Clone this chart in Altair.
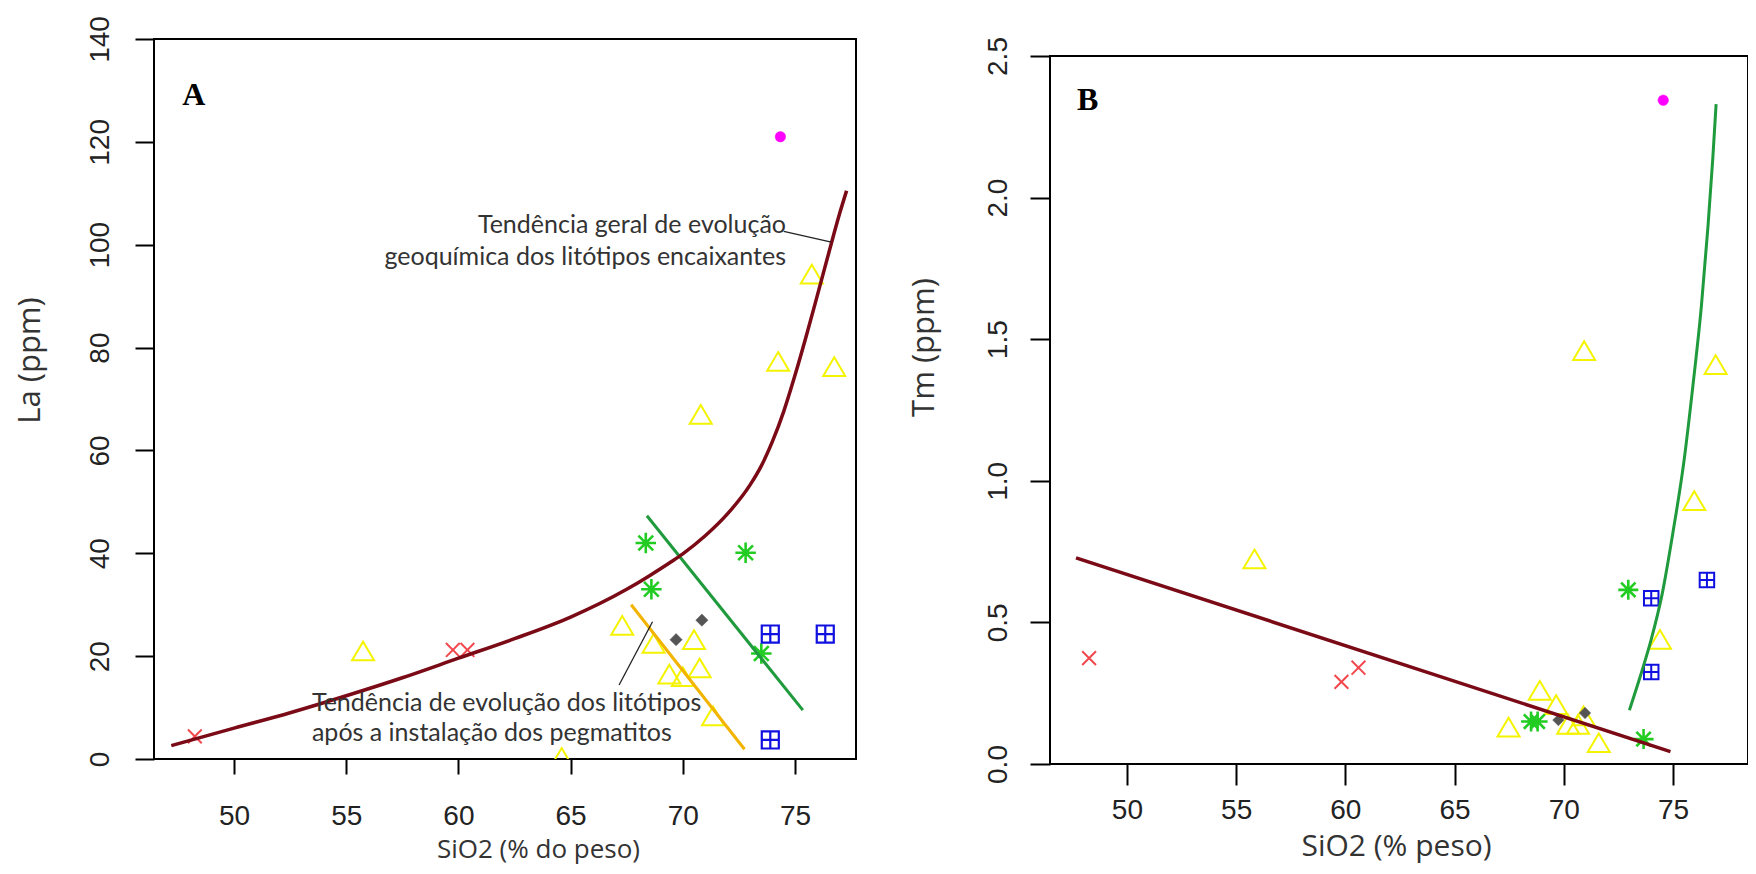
import altair as alt
import pandas as pd

# ---------------- Panel A : SiO2 (% do peso) x La (ppm) ----------------
A_red_x = [48.25, 59.75, 60.4]
A_red_y = [4.4, 21.2, 21.2]
A_tri_x = [55.75, 64.6, 67.3, 68.7, 69.4, 70.0, 70.5, 70.75, 71.35, 70.8, 74.25, 75.75, 76.75]
A_tri_y = [21.0, 0.3, 26.0, 22.5, 16.5, 16.0, 23.2, 17.7, 8.4, 67.0, 77.3, 94.3, 76.3]
A_ast_x = [68.35, 68.6, 72.8, 73.5]
A_ast_y = [42.0, 33.0, 40.1, 20.5]
A_dia_x = [69.7, 70.85]
A_dia_y = [23.2, 27.0]
A_sq_x = [73.9, 76.35, 73.9]
A_sq_y = [24.3, 24.3, 3.7]
A_mag_x = [74.35]
A_mag_y = [121.0]
A_trend_x = [47.2, 50, 52.5, 55, 57.5, 60, 62.5, 65, 67.5, 68.5, 69.5, 70, 71, 72, 73,
             73.5, 74, 74.5, 75, 75.5, 76, 76.5, 77.0, 77.3]
A_trend_y = [2.6, 6.0, 9.0, 12.3, 15.8, 19.6, 23.4, 27.6, 33.0, 35.6, 38.4, 39.9, 43.4, 47.7,
             53.3, 57.0, 61.8, 67.6, 74.6, 82.2, 90.2, 98.3, 106.2, 110.5]
A_green_x = [68.4, 75.35]
A_green_y = [47.3, 9.5]
A_orange_x = [67.7, 72.75]
A_orange_y = [30.0, 1.9]
A_note1 = ["Tendência geral de evolução", "geoquímica dos litótipos encaixantes"]
A_note1_x = [74.6, 74.6]
A_note1_y = [103.8, 97.6]
A_note2 = ["Tendência de evolução dos litótipos", "após a instalação dos pegmatitos"]
A_note2_x = [53.47, 53.47]
A_note2_y = [10.9, 5.0]
A_lead_seg = ["s1", "s1", "s2", "s2"]
A_lead_x = [74.5, 76.62, 67.16, 68.65]
A_lead_y = [102.6, 100.5, 14.4, 26.7]
A_tag_x, A_tag_y = [48.2], [129.1]

# ---------------- Panel B : SiO2 (% peso) x Tm (ppm) ----------------
B_red_x = [48.27, 59.82, 60.6]
B_red_y = [0.374, 0.29, 0.34]
B_tri_x = [55.84, 70.93, 76.95, 75.97, 74.4, 67.47, 68.9, 69.65, 70.2, 70.65, 70.9, 71.6]
B_tri_y = [0.724, 1.46, 1.41, 0.93, 0.44, 0.13, 0.26, 0.21, 0.14, 0.14, 0.17, 0.075]
B_ast_x = [68.5, 68.8, 72.95, 73.65]
B_ast_y = [0.15, 0.15, 0.615, 0.088]
B_dia_x = [69.75, 70.97]
B_dia_y = [0.155, 0.18]
B_sq_x = [74.0, 74.0, 76.55]
B_sq_y = [0.585, 0.325, 0.65]
B_mag_x = [74.55]
B_mag_y = [2.344]
B_trend_x = [47.67, 74.88]
B_trend_y = [0.728, 0.044]
B_green_x = [73.0, 73.5, 74.0, 74.5, 75.0, 75.5, 75.9, 76.3, 76.6, 76.82, 76.97]
B_green_y = [0.19, 0.31, 0.44, 0.6, 0.82, 1.07, 1.33, 1.62, 1.9, 2.14, 2.33]
B_tag_x, B_tag_y = [48.2], [2.343]

X_TICKS = [50, 55, 60, 65, 70, 75]
A_Y_TICKS = [0, 20, 40, 60, 80, 100, 120, 140]
B_Y_TICKS = [0.0, 0.5, 1.0, 1.5, 2.0, 2.5]

# symbol paths (unit square -1..1)
TRI = "M0,-0.85L1,0.85L-1,0.85Z"
XSYM = "M-1,-1L1,1M-1,1L1,-1"
AST = "M-1,0L1,0M0,-1L0,1M-0.72,-0.72L0.72,0.72M-0.72,0.72L0.72,-0.72"
SQP = "M-1,-1L1,-1L1,1L-1,1Z M-1,0L1,0 M0,-1L0,1"
DIA = "M0,-1L1,0L0,1L-1,0Z"

RED = "#f2474d"
YEL = "#f4f400"
GRN = "#22cc22"
GRAY = "#555555"
BLUE = "#1010e0"
MAG = "#ff00ff"
MAROON = "#7a0a16"
DGREEN = "#1f9a3c"
ORANGE = "#f2b400"
TXT = "#333333"
LAB = "#222222"


def make_panel(xdom, ydom, yticks, yfmt, xtitle, ytitle, p):
    xs = alt.Scale(domain=xdom, nice=False, zero=False)
    ys = alt.Scale(domain=ydom, nice=False, zero=False)
    xax = alt.Axis(values=X_TICKS, title=xtitle, domain=False, grid=False,
                   tickSize=p["xtick"], tickWidth=2, tickColor="black",
                   labelFont="Liberation Sans", labelFontSize=28, labelColor=LAB,
                   labelPadding=p["xlabpad"], labelFlush=False, labelOverlap=False,
                   titleFont="Open Sans", titleFontSize=p["xtitlesize"], titleFontWeight="normal",
                   titleColor=TXT, titlePadding=p["xtitlepad"], titleX=p["xtitlex"])
    yax = alt.Axis(values=yticks, format=yfmt, title=ytitle, domain=False, grid=False,
                   tickSize=p["ytick"], tickWidth=2, tickColor="black",
                   labelFont="Liberation Sans", labelFontSize=28, labelColor=LAB,
                   labelAngle=-90, labelAlign="center", labelBaseline="bottom",
                   labelPadding=p["ylabpad"], labelFlush=False, labelOverlap=False,
                   titleFont="Open Sans", titleFontSize=31, titleFontWeight="normal",
                   titleColor=TXT, titlePadding=p["ytitlepad"], titleY=p["ytitley"])

    def enc(ch):
        return ch.encode(x=alt.X("x:Q", scale=xs, axis=xax),
                         y=alt.Y("y:Q", scale=ys, axis=yax))
    return enc


def df(xs, ys, **extra):
    d = {"x": xs, "y": ys}
    d.update(extra)
    return pd.DataFrame(d)


def points(enc, xs, ys, shape, color, size, filled=False, sw=2.0, clip=False):
    if filled:
        m = alt.Chart(df(xs, ys)).mark_point(shape=shape, fill=color, filled=True,
                                             stroke=color, strokeWidth=0.5,
                                             size=size, opacity=1, clip=clip)
    else:
        m = alt.Chart(df(xs, ys)).mark_point(shape=shape, color=color, filled=False,
                                             strokeWidth=sw, size=size, opacity=1, clip=clip)
    return enc(m)


def line(enc, xs, ys, color, width, interp="linear"):
    return enc(alt.Chart(df(xs, ys)).mark_line(color=color, strokeWidth=width,
                                               interpolate=interp))


# ---------- Panel A ----------
encA = make_panel([46.43, 77.72], [0, 140], A_Y_TICKS, "d", "SiO2 (% do peso)", "La (ppm)",
                  dict(xtick=15, xlabpad=28, xtitlesize=26, xtitlepad=6, xtitlex=384,
                       ytick=19, ylabpad=21, ytitlepad=40, ytitley=321))

A_layers = [
    points(encA, A_tri_x, A_tri_y, TRI, YEL, 484, clip=True),
    points(encA, A_red_x, A_red_y, XSYM, RED, 190),
    points(encA, A_ast_x, A_ast_y, AST, GRN, 420, sw=2.6),
    points(encA, A_dia_x, A_dia_y, DIA, GRAY, 150, filled=True),
    points(encA, A_sq_x, A_sq_y, SQP, BLUE, 290, sw=2.2),
    points(encA, A_mag_x, A_mag_y, "circle", MAG, 110, filled=True),
    line(encA, A_green_x, A_green_y, DGREEN, 3),
    line(encA, A_orange_x, A_orange_y, ORANGE, 3),
    line(encA, A_trend_x, A_trend_y, MAROON, 3.5, "monotone"),
    encA(alt.Chart(df(A_lead_x, A_lead_y, seg=A_lead_seg)).mark_line(
        color="#222222", strokeWidth=1.3)).encode(detail="seg:N"),
    encA(alt.Chart(df(A_note1_x, A_note1_y, t=A_note1)).mark_text(
        align="right", baseline="middle", font="Lato", fontSize=25, color=TXT)).encode(text="t:N"),
    encA(alt.Chart(df(A_note2_x, A_note2_y, t=A_note2)).mark_text(
        align="left", baseline="middle", font="Lato", fontSize=25, color=TXT)).encode(text="t:N"),
    encA(alt.Chart(df(A_tag_x, A_tag_y, t=["A"])).mark_text(
        align="center", baseline="middle", font="Liberation Serif", fontWeight="bold",
        fontSize=32, color="black")).encode(text="t:N"),
]
panelA = alt.layer(*A_layers).properties(width=702, height=720)

# ---------- Panel B ----------
encB = make_panel([46.48, 78.43], [0, 2.5], B_Y_TICKS, ".1f", "SiO2 (% peso)", "Tm (ppm)",
                  dict(xtick=21, xlabpad=11, xtitlesize=30, xtitlepad=7, xtitlex=346,
                       ytick=20, ylabpad=18, ytitlepad=44, ytitley=291))

B_layers = [
    points(encB, B_tri_x, B_tri_y, TRI, YEL, 484),
    points(encB, B_red_x, B_red_y, XSYM, RED, 190),
    points(encB, B_ast_x, B_ast_y, AST, GRN, 400, sw=2.6),
    points(encB, B_dia_x, B_dia_y, DIA, GRAY, 130, filled=True),
    points(encB, B_sq_x, B_sq_y, SQP, BLUE, 210, sw=2.0),
    points(encB, B_mag_x, B_mag_y, "circle", MAG, 110, filled=True),
    line(encB, B_green_x, B_green_y, DGREEN, 3, "monotone"),
    line(encB, B_trend_x, B_trend_y, MAROON, 3.5),
    encB(alt.Chart(df(B_tag_x, B_tag_y, t=["B"])).mark_text(
        align="center", baseline="middle", font="Liberation Serif", fontWeight="bold",
        fontSize=32, color="black")).encode(text="t:N"),
]
panelB = alt.layer(*B_layers).properties(width=698, height=708)

spacer = alt.Chart(df([0], [0])).mark_point(opacity=0).encode(
    x=alt.X("x:Q", axis=None), y=alt.Y("y:Q", axis=None)
).properties(width=698, height=17, view=alt.ViewBackground(strokeOpacity=0))

right = alt.vconcat(spacer, panelB, spacing=0, bounds="flush")

chart = alt.hconcat(panelA, right, spacing=194, bounds="flush").properties(
    autosize=alt.AutoSizeParams(type="none"),
    padding={"left": 146, "top": 31, "right": 1594, "bottom": 827}
).configure(background="white").configure_view(stroke="black", strokeWidth=2)

chart.save("out.html", embed_options={"renderer": "svg", "actions": False})
